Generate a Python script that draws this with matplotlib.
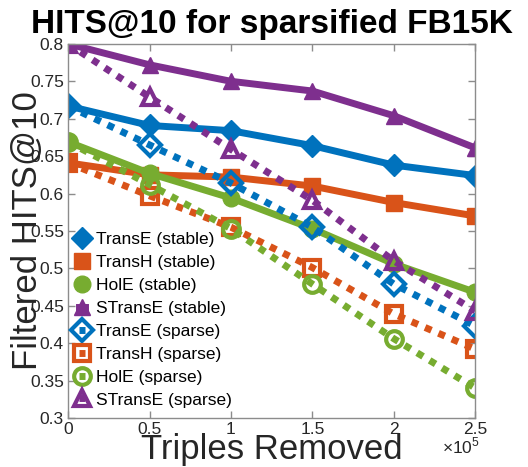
import numpy as np
import matplotlib
matplotlib.use("Agg")
import matplotlib.pyplot as plt
from matplotlib.ticker import FuncFormatter

plt.rcParams['font.family'] = ['Liberation Sans', 'DejaVu Sans']
plt.rcParams['mathtext.fontset'] = 'custom'
plt.rcParams['mathtext.rm'] = 'Liberation Sans'

# data
removed = [0, 50000, 100000, 150000, 200000, 250000]

transe_stable = [0.717, 0.691, 0.684, 0.664, 0.638, 0.624]
transh_stable = [0.641, 0.625, 0.622, 0.610, 0.588, 0.570]
hole_stable = [0.669, 0.627, 0.594, 0.553, 0.506, 0.468]
stranse_stable = [0.800, 0.772, 0.750, 0.737, 0.704, 0.661]

transe_sparse = [0.717, 0.665, 0.614, 0.555, 0.479, 0.423]
transh_sparse = [0.641, 0.597, 0.555, 0.501, 0.439, 0.392]
hole_sparse = [0.669, 0.612, 0.553, 0.479, 0.406, 0.340]
stranse_sparse = [0.800, 0.729, 0.659, 0.591, 0.510, 0.443]

models = ['TransE', 'TransH', 'HolE', 'STransE']
stable = [transe_stable, transh_stable, hole_stable, stranse_stable]
sparse = [transe_sparse, transh_sparse, hole_sparse, stranse_sparse]
colors = ['#0072BD', '#D95319', '#77AC30', '#7E2F8E']
markers = ['D', 's', 'o', '^']
msizes = [11, 11, 12, 12]

fig = plt.figure(figsize=(5.28, 4.67), dpi=100)
ax = fig.add_axes([0.129, 0.105, 0.771, 0.801])

# stable runs: solid lines with filled markers
for name, vals, c, m, ms in zip(models, stable, colors, markers, msizes):
    ax.plot(removed, vals, color=c, lw=5, marker=m, ms=ms,
            mfc=c, mec=c, label=name + ' (stable)')

# sparse runs: dotted lines with open markers
for name, vals, c, m, ms in zip(models, sparse, colors, markers, msizes):
    line, = ax.plot(removed, vals, color=c, lw=5, marker=m, ms=ms,
                    mfc='none', mec=c, mew=3, label=name + ' (sparse)')
    line.set_dashes([1, 1.1])
    line.set_dash_capstyle('butt')

ax.set_xlim(0, 250000)
ax.set_ylim(0.3, 0.8)
ax.set_xticks(removed)
ax.xaxis.set_major_formatter(FuncFormatter(lambda v, p: f'{v / 1e5:g}'))
ax.set_yticks(np.arange(0.3, 0.801, 0.05))
ax.set_yticklabels(['0.3', '0.35', '0.4', '0.45', '0.5', '0.55', '0.6',
                    '0.65', '0.7', '0.75', '0.8'])

for sp in ax.spines.values():
    sp.set_color('#8c8c8c')
    sp.set_linewidth(1)
ax.tick_params(direction='in', length=5, width=1, color='#8c8c8c',
               labelsize=12.5, labelcolor='#262626', top=True, right=True,
               pad=3)

# exponent label under the right end of the x axis
ax.text(0.965, -0.075, r'$\times10^5$', transform=ax.transAxes,
        fontsize=12.5, color='#262626', ha='center', va='center')

ax.set_title('HITS@10 for sparsified FB15K', fontsize=24,
             fontweight='bold', pad=8)
ax.set_xlabel('Triples Removed', fontsize=25, color='#262626', labelpad=-3)
ax.set_ylabel('Filtered HITS@10', fontsize=25, color='#262626', labelpad=-10)

ax.legend(loc='lower left', frameon=False, fontsize=12.5, handlelength=0.4,
          handletextpad=0.6, labelspacing=0.45, borderaxespad=0.2,
          borderpad=0.4, bbox_to_anchor=(0.0, 0.0))

fig.savefig('out.png', dpi=100)
